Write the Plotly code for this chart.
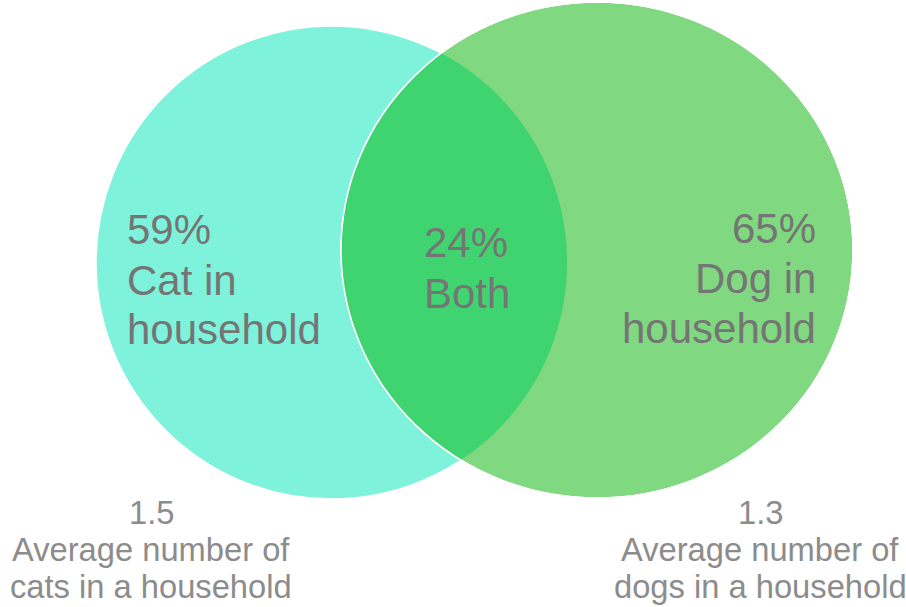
import numpy as np
import plotly.graph_objects as go

# Survey figures
share_labels = ["Cat in household", "Both", "Dog in household"]
share_values = [59, 24, 65]
avg_labels = ["cats in a household", "dogs in a household"]
avg_values = [1.5, 1.3]

W, H = 906, 607

# Circle geometry (pixel space): centre x, centre y, radius x, radius y
cat_circle = (331.5, 262.5, 235.5, 236.5)
dog_circle = (597.0, 250.0, 256.0, 248.0)

CAT_FILL = "#7ef2db"
DOG_FILL = "#80d980"
BOTH_FILL = "#40d470"
INNER_TXT = "#757575"
OUTER_TXT = "#8c8c8c"
FONT = "Liberation Sans, Arial, sans-serif"


def ellipse_points(c, t):
    cx, cy, rx, ry = c
    return cx + rx * np.cos(t), cy + ry * np.sin(t)


def inside(c, x, y):
    cx, cy, rx, ry = c
    return ((x - cx) / rx) ** 2 + ((y - cy) / ry) ** 2 <= 1.0


# Lens-shaped overlap built from the two outlines
ta = np.linspace(0, 2 * np.pi, 4000, endpoint=False)
ax_, ay_ = ellipse_points(dog_circle, ta)
ma = inside(cat_circle, ax_, ay_)
tb = np.linspace(-np.pi, np.pi, 4000, endpoint=False)
bx_, by_ = ellipse_points(cat_circle, tb)
mb = inside(dog_circle, bx_, by_)
px = np.concatenate([ax_[ma], bx_[mb]])
py = np.concatenate([ay_[ma], by_[mb]])
lens_path = "M " + " L ".join(f"{x:.2f},{y:.2f}" for x, y in zip(px, py)) + " Z"


def ellipse_shape(c, fill, line_color, line_width):
    cx, cy, rx, ry = c
    return dict(type="circle", xref="x", yref="y",
                x0=cx - rx, x1=cx + rx, y0=cy - ry, y1=cy + ry,
                fillcolor=fill, line=dict(color=line_color, width=line_width),
                layer="below")


shapes = [
    ellipse_shape(cat_circle, CAT_FILL, "white", 1.5),
    ellipse_shape(dog_circle, DOG_FILL, "white", 1.5),
    dict(type="path", path=lens_path, xref="x", yref="y",
         fillcolor=BOTH_FILL, line=dict(width=0), layer="below"),
    ellipse_shape(dog_circle, "rgba(0,0,0,0)", "white", 1.5),
]

annotations = []


def add_lines(lines, x, ys, anchor, size, color):
    for text, y in zip(lines, ys):
        annotations.append(dict(
            x=x, y=y, xref="x", yref="y", text=text, showarrow=False,
            xanchor=anchor, yanchor="middle",
            font=dict(family=FONT, size=size, color=color)))


inner = 42
half = 0.35 * inner
cat_words = share_labels[0].split(" ")
dog_words = share_labels[2].split(" ")
add_lines([f"{share_values[0]}%", " ".join(cat_words[:2]), cat_words[2]],
          125, [244 - half, 295 - half, 344 - half], "left", inner, INNER_TXT)
add_lines([f"{share_values[1]}%", share_labels[1]],
          422, [257 - half, 308 - half], "left", inner, INNER_TXT)
add_lines([f"{share_values[2]}%", " ".join(dog_words[:2]), dog_words[2]],
          818, [243 - half, 293 - half, 343 - half], "right", inner, INNER_TXT)

outer = 32.7
ohalf = 0.35 * outer
oys = [524 - ohalf, 561 - ohalf, 598 - ohalf]
add_lines([f"{avg_values[0]}", "Average number of", avg_labels[0]],
          151, oys, "center", outer, OUTER_TXT)
add_lines([f"{avg_values[1]}", "Average number of", avg_labels[1]],
          760, oys, "center", outer, OUTER_TXT)

fig = go.Figure()
fig.add_trace(go.Scatter(x=[0, W], y=[0, H], mode="markers",
                         marker=dict(opacity=0), hoverinfo="skip",
                         showlegend=False))
fig.update_layout(
    width=W, height=H,
    margin=dict(l=0, r=0, t=0, b=0),
    paper_bgcolor="white", plot_bgcolor="white",
    xaxis=dict(range=[0, W], visible=False, fixedrange=True),
    yaxis=dict(range=[H, 0], visible=False, fixedrange=True),
    shapes=shapes, annotations=annotations,
    showlegend=False,
)

fig.write_html("out.html", config={"displayModeBar": False})
